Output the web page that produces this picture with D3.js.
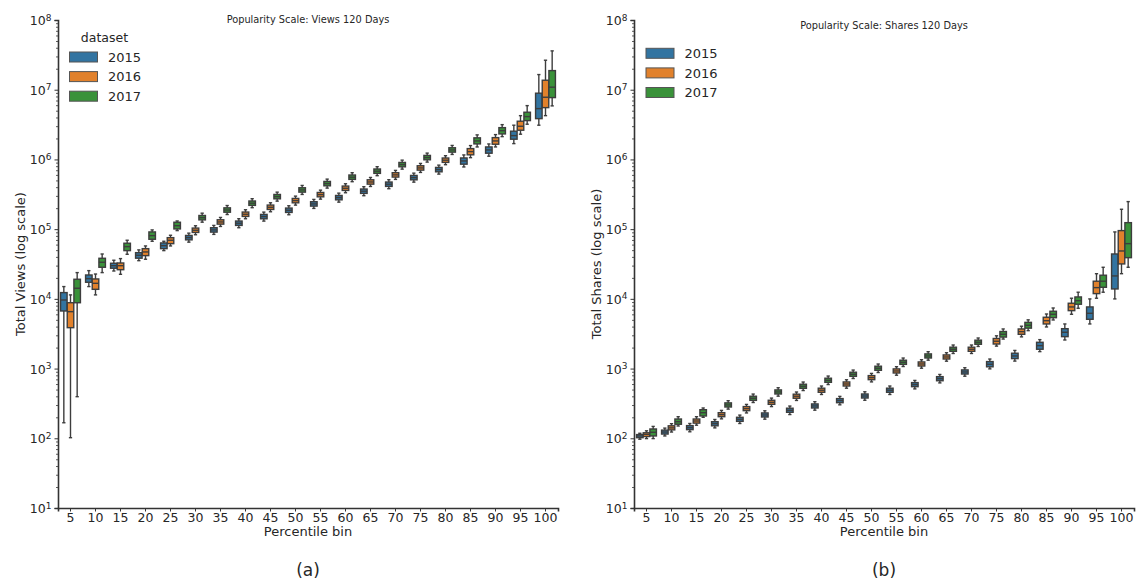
<!DOCTYPE html>
<html>
<head>
<meta charset="utf-8">
<script src="https://cdn.jsdelivr.net/npm/d3@7"></script>
<style>
  body { margin: 0; background: #fff; }
  svg { display: block; }
  text { font-family: "DejaVu Sans", sans-serif; fill: #262626; }
</style>
</head>
<body>
<svg id="chart" width="1137" height="586"></svg>
<script>
// Percentile bins on the x axis and the three hue levels
const bins = [5, 10, 15, 20, 25, 30, 35, 40, 45, 50, 55, 60, 65, 70, 75, 80, 85, 90, 95, 100];
const years = ["2015", "2016", "2017"];
const yearColors = ["#3274a1", "#e1812c", "#3a923a"];
const yTickValues = [1e1, 1e2, 1e3, 1e4, 1e5, 1e6, 1e7, 1e8];

// Each entry: [lower whisker, q1, median, q3, upper whisker]
const views2015 = [
  [167, 6700, 9640, 12300, 15000],
  [15000, 17300, 19500, 22000, 25400],
  [25100, 27500, 29900, 32400, 35800],
  [35300, 38300, 42200, 46000, 50400],
  [49200, 52500, 57900, 63400, 67000],
  [65100, 70200, 75500, 81200, 87600],
  [84100, 90700, 97500, 104800, 113100],
  [104800, 113100, 121600, 130700, 141100],
  [130400, 140700, 151300, 162600, 175500],
  [160900, 173600, 186600, 200600, 216500],
  [198300, 214000, 230000, 247300, 266800],
  [244000, 263300, 283000, 304200, 328300],
  [301700, 325600, 350000, 376300, 406000],
  [380200, 410200, 441000, 474100, 511600],
  [472400, 509800, 548000, 589100, 635700],
  [615500, 664200, 714000, 767600, 828200],
  [780000, 855000, 951000, 1050000, 1160000],
  [1112000, 1228000, 1368000, 1511000, 1667000],
  [1686000, 1950000, 2194000, 2541000, 3097000],
  [3097000, 3846000, 5357000, 8913000, 16490000]
];
const views2016 = [
  [102, 3860, 6550, 8800, 11400],
  [11400, 13700, 16700, 19300, 22700],
  [22500, 26200, 29900, 32700, 37800],
  [37000, 41700, 47100, 52500, 57400],
  [57400, 61900, 69300, 75500, 81700],
  [83100, 89700, 96400, 103600, 111800],
  [109300, 118000, 126800, 136300, 147100],
  [141000, 152200, 163600, 175900, 189800],
  [177600, 191600, 206000, 221500, 239000],
  [221100, 238600, 256500, 275700, 297500],
  [269400, 290700, 312500, 335900, 362500],
  [332800, 359100, 386000, 415000, 447800],
  [409500, 441900, 475000, 510600, 551000],
  [517200, 558100, 600000, 645000, 696000],
  [650900, 702300, 755000, 811600, 875800],
  [840500, 907000, 975000, 1048100, 1131000],
  [1060000, 1165000, 1294000, 1430000, 1580000],
  [1511000, 1652000, 1842000, 2055000, 2270000],
  [2301000, 2624000, 2992000, 3532000, 4246000],
  [4246000, 5535000, 7798000, 13680000, 26490000]
];
const views2017 = [
  [395, 8800, 14200, 19100, 23800],
  [23800, 28400, 33500, 38200, 44000],
  [43600, 49200, 56100, 62800, 69300],
  [67000, 71600, 80700, 91200, 97500],
  [95300, 100700, 112000, 125600, 131000],
  [125900, 135800, 146000, 157000, 169400],
  [162100, 174900, 188000, 202100, 218100],
  [203100, 219200, 235600, 253300, 273300],
  [252200, 272100, 292500, 314400, 339300],
  [314700, 339500, 365000, 392400, 423400],
  [387800, 418400, 449800, 483500, 521800],
  [479300, 517200, 556000, 597700, 645000],
  [584500, 630700, 678000, 728900, 786500],
  [725900, 783300, 842000, 905200, 976700],
  [915500, 987900, 1062000, 1141700, 1231900],
  [1179300, 1272600, 1368000, 1470600, 1586900],
  [1510000, 1670000, 1842000, 2040000, 2250000],
  [2123000, 2322000, 2588000, 2858000, 3155000],
  [3199000, 3606000, 4111000, 4753000, 5913000],
  [5862000, 7709000, 10870000, 18800000, 36060000]
];

const shares2015 = [
  [97, 102, 108, 113, 118],
  [108, 115, 123, 131, 140],
  [124, 133, 142, 152, 163],
  [141, 151, 162, 173, 186],
  [163, 175, 187, 200, 215],
  [188, 202, 216, 231, 248],
  [219, 236, 252, 270, 290],
  [253, 272, 291, 311, 335],
  [302, 324, 347, 371, 399],
  [351, 378, 404, 432, 465],
  [425, 457, 489, 523, 562],
  [511, 550, 588, 629, 676],
  [623, 669, 716, 766, 823],
  [777, 835, 894, 957, 1028],
  [990, 1060, 1153, 1260, 1370],
  [1280, 1390, 1517, 1660, 1820],
  [1750, 1893, 2133, 2383, 2600],
  [2570, 2871, 3319, 3733, 4365],
  [4365, 5093, 6209, 7657, 9980],
  [9980, 13870, 21330, 44030, 91200]
];
const shares2016 = [
  [99, 106, 114, 120, 128],
  [123, 132, 141, 151, 162],
  [154, 165, 177, 189, 204],
  [190, 204, 218, 233, 251],
  [231, 249, 266, 285, 306],
  [285, 307, 328, 351, 377],
  [349, 375, 401, 429, 461],
  [425, 457, 489, 523, 562],
  [523, 562, 601, 643, 691],
  [644, 693, 741, 793, 852],
  [803, 864, 924, 989, 1063],
  [1012, 1088, 1164, 1245, 1339],
  [1276, 1371, 1467, 1570, 1687],
  [1646, 1769, 1893, 2025, 2177],
  [2100, 2250, 2467, 2700, 2950],
  [2850, 3100, 3388, 3700, 4050],
  [3954, 4365, 4864, 5445, 6064],
  [6012, 6776, 7657, 8650, 10210],
  [10210, 11890, 14490, 17910, 22960],
  [22960, 31700, 48630, 95280, 192800]
];
const shares2017 = [
  [99, 108, 122, 136, 148],
  [150, 159, 173, 189, 204],
  [200, 209, 233, 257, 272],
  [262, 281, 301, 322, 346],
  [326, 350, 375, 401, 431],
  [402, 432, 462, 494, 531],
  [484, 521, 557, 596, 641],
  [590, 635, 679, 727, 781],
  [720, 774, 828, 886, 952],
  [878, 944, 1010, 1081, 1162],
  [1070, 1150, 1231, 1317, 1416],
  [1319, 1418, 1517, 1623, 1745],
  [1646, 1769, 1893, 2025, 2177],
  [2076, 2231, 2387, 2554, 2745],
  [2650, 2830, 3106, 3400, 3700],
  [3500, 3800, 4181, 4600, 5000],
  [4978, 5370, 6012, 6637, 7396],
  [7330, 8372, 9420, 10650, 12450],
  [12450, 14660, 17910, 21830, 28380],
  [28380, 38990, 61940, 123900, 248300]
];

const svg = d3.select("#chart");
const lineGray = "#3d3d3d";
const plotTop = 20, plotBottom = 508, plotW = 500;

function drawPanel(cfg) {
  const g = svg.append("g");
  const x = d3.scaleBand().domain(bins).range([cfg.left, cfg.left + plotW]).paddingInner(0).paddingOuter(0);
  const hue = d3.scaleBand().domain(years).range([-x.bandwidth() * 0.4, x.bandwidth() * 0.4]);
  const y = d3.scaleLog().domain([1e1, 1e8]).range([plotBottom, plotTop]);
  const boxW = hue.bandwidth() * 0.98;

  // minor log ticks
  const minor = [];
  for (let e = 1; e < 8; e++) for (let m = 2; m <= 9; m++) minor.push(m * Math.pow(10, e));
  g.append("g").attr("transform", `translate(${cfg.left},0)`)
    .call(d3.axisLeft(y).tickValues(minor).tickSize(2).tickFormat(""))
    .call(a => a.select(".domain").remove())
    .call(a => a.selectAll("line").attr("stroke", "#333").attr("stroke-width", 0.8));

  // major y axis with 10^n labels
  const yAx = g.append("g").attr("transform", `translate(${cfg.left},0)`)
    .call(d3.axisLeft(y).tickValues(yTickValues).tickSize(3.5).tickPadding(3).tickFormat(""));
  yAx.select(".domain").attr("stroke", "#333").attr("stroke-width", 1.6);
  yAx.selectAll(".tick line").attr("stroke", "#333").attr("stroke-width", 1);
  yAx.selectAll(".tick text").each(function(d) {
    const t = d3.select(this).attr("font-size", 12.5).attr("fill", "#262626")
      .attr("font-family", "DejaVu Sans").attr("dy", "0.36em");
    t.append("tspan").text("10");
    t.append("tspan").attr("dy", "-0.5em").attr("font-size", 9).text(Math.round(Math.log10(d)));
  });

  // x axis
  const xAx = g.append("g").attr("transform", `translate(0,${plotBottom})`)
    .call(d3.axisBottom(x).tickSize(3.5).tickPadding(1.5));
  xAx.select(".domain").attr("stroke", "#333").attr("stroke-width", 1.6);
  xAx.selectAll(".tick line").attr("stroke", "#333");
  xAx.selectAll(".tick text").attr("font-size", 12.5).attr("fill", "#262626").attr("font-family", "DejaVu Sans");

  // boxes
  cfg.series.forEach((arr, yi) => {
    const offset = hue(years[yi]) + hue.bandwidth() / 2;
    arr.forEach((s, bi) => {
      const cx = x(bins[bi]) + x.bandwidth() / 2 + offset;
      const [lo, q1, med, q3, hi] = s;
      const bg = g.append("g");
      const capW = boxW * 0.5;
      bg.append("line").attr("x1", cx).attr("x2", cx).attr("y1", y(q3)).attr("y2", y(hi))
        .attr("stroke", lineGray).attr("stroke-width", 1.4);
      bg.append("line").attr("x1", cx).attr("x2", cx).attr("y1", y(q1)).attr("y2", y(lo))
        .attr("stroke", lineGray).attr("stroke-width", 1.4);
      [lo, hi].forEach(v => bg.append("line")
        .attr("x1", cx - capW / 2).attr("x2", cx + capW / 2).attr("y1", y(v)).attr("y2", y(v))
        .attr("stroke", lineGray).attr("stroke-width", 1.4));
      bg.append("rect").attr("x", cx - boxW / 2).attr("width", boxW)
        .attr("y", y(q3)).attr("height", Math.max(0.5, y(q1) - y(q3)))
        .attr("fill", yearColors[yi]).attr("stroke", lineGray).attr("stroke-width", 1.4);
      bg.append("line").attr("x1", cx - boxW / 2).attr("x2", cx + boxW / 2)
        .attr("y1", y(med)).attr("y2", y(med)).attr("stroke", lineGray).attr("stroke-width", 1.4);
    });
  });

  // title
  g.append("text").attr("x", cfg.left + plotW / 2).attr("y", cfg.titleY)
    .attr("text-anchor", "middle").attr("font-size", 9.8).text(cfg.title);

  // axis labels
  g.append("text").attr("transform", `translate(${cfg.left - 38},${(plotTop + plotBottom) / 2}) rotate(-90)`)
    .attr("text-anchor", "middle").attr("dy", "0.35em").attr("font-size", 13).text(cfg.ylabel);
  g.append("text").attr("x", cfg.left + plotW / 2).attr("y", 536)
    .attr("text-anchor", "middle").attr("font-size", 13).text("Percentile bin");

  // legend
  const lg = g.append("g");
  if (cfg.legendTitle) {
    lg.append("text").attr("x", cfg.legendX + 35).attr("y", cfg.legendTitleY)
      .attr("text-anchor", "middle").attr("dy", "0.35em").attr("font-size", 12.5).text(cfg.legendTitle);
  }
  years.forEach((yr, i) => {
    const ry = cfg.legendY + i * 19.6;
    lg.append("rect").attr("x", cfg.legendX).attr("y", ry - 5).attr("width", 28).attr("height", 10)
      .attr("fill", yearColors[i]).attr("stroke", "#555").attr("stroke-width", 1);
    lg.append("text").attr("x", cfg.legendX + 38.5).attr("y", ry).attr("dy", "0.36em")
      .attr("font-size", 13).text(yr);
  });

  // caption
  g.append("text").attr("x", cfg.left + plotW / 2).attr("y", 576)
    .attr("text-anchor", "middle").attr("font-size", 17)
    .attr("font-family", "Liberation Serif, serif").text(cfg.caption);
}

drawPanel({
  left: 58, series: [views2015, views2016, views2017],
  title: "Popularity Scale: Views 120 Days", titleY: 23,
  ylabel: "Total Views (log scale)",
  legendTitle: "dataset", legendTitleY: 38, legendX: 69.5, legendY: 57,
  caption: "(a)"
});
drawPanel({
  left: 634, series: [shares2015, shares2016, shares2017],
  title: "Popularity Scale: Shares 120 Days", titleY: 29,
  ylabel: "Total Shares (log scale)",
  legendTitle: null, legendX: 646, legendY: 53.3,
  caption: "(b)"
});
</script>
</body>
</html>
